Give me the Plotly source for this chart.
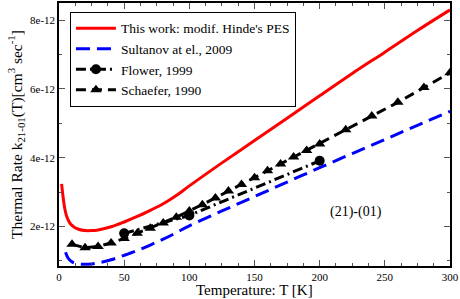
import plotly.graph_objects as go

# Values in units of 1e-12 cm^3 s^-1
T_this = [2, 3, 4, 5, 6, 8, 10, 12, 15, 20, 25, 30, 40, 50, 60, 70, 80, 90, 100,
          125, 150, 175, 200, 225, 250, 275, 300]
k_this = [3.24, 2.90, 2.62, 2.42, 2.28, 2.12, 2.03, 1.97, 1.92, 1.88, 1.88, 1.90, 1.99,
          2.13, 2.29, 2.47, 2.66, 2.90, 3.18, 3.85, 4.50, 5.15, 5.80, 6.45, 7.07, 7.70, 8.30]

T_sult = [5, 7, 10, 15, 20, 25, 30, 40, 50, 60, 70, 80, 90, 100,
          125, 150, 175, 200, 225, 250, 275, 300]
k_sult = [1.25, 1.08, 0.97, 0.91, 0.90, 0.91, 0.94, 1.03, 1.16, 1.30, 1.46, 1.63, 1.82, 2.02,
          2.45, 2.87, 3.29, 3.71, 4.12, 4.53, 4.94, 5.35]

T_flower = [50, 100, 200]
k_flower = [1.80, 2.32, 3.91]

T_schaefer = [10, 20, 30, 40, 50, 60, 70, 80, 90, 100, 110, 120, 130, 140, 150,
              160, 170, 180, 190, 200, 220, 240, 260, 280, 300]
k_schaefer = [1.48, 1.38, 1.42, 1.52, 1.65, 1.80, 1.95, 2.10, 2.27, 2.45, 2.63, 2.83, 3.03,
              3.22, 3.42, 3.62, 3.82, 4.02, 4.21, 4.40, 4.81, 5.21, 5.61, 6.04, 6.47]

y_tickvals = [2, 4, 6, 8]
y_ticktext = ["2e-12", "4e-12", "6e-12", "8e-12"]
x_tickvals = [0, 50, 100, 150, 200, 250, 300]

serif = "Liberation Serif"

fig = go.Figure()
fig.add_trace(go.Scatter(x=T_this, y=k_this, mode="lines", name="This work: modif. Hinde's PES",
                         line=dict(color="#ff0000", width=3, shape="spline")))
fig.add_trace(go.Scatter(x=T_sult, y=k_sult, mode="lines", name="Sultanov at el., 2009",
                         line=dict(color="#0000ff", width=3, dash="14px,7px", shape="spline")))
fig.add_trace(go.Scatter(x=T_flower, y=k_flower, mode="lines+markers", name="Flower, 1999",
                         line=dict(color="black", width=3, dash="10px,4px,2px,4px"),
                         marker=dict(symbol="circle", size=10, color="black")))
fig.add_trace(go.Scatter(x=T_schaefer, y=k_schaefer, mode="lines+markers", name="Schaefer, 1990",
                         line=dict(color="black", width=3, dash="10px,6px"),
                         marker=dict(symbol="triangle-up", size=10, color="black")))

fig.add_annotation(x=228, y=2.43, text="(21)-(01)", showarrow=False,
                   font=dict(family=serif, size=14, color="black"))

# x-axis title placed below tick labels
fig.add_annotation(x=0.5, xref="paper", y=0, yref="paper", yanchor="bottom", yshift=-33,
                   borderpad=0, text="Temperature: T [K]", showarrow=False,
                   font=dict(family=serif, size=15, color="black"))

axis_common = dict(showline=True, linecolor="black", linewidth=1.5, mirror="allticks",
                   ticks="inside", ticklen=6, tickcolor="#555555", tickwidth=1,
                   showgrid=False, zeroline=False,
                   tickfont=dict(family=serif, size=11, color="black"))

fig.update_layout(
    width=460, height=299,
    margin=dict(l=59, r=10, t=1, b=33),
    paper_bgcolor="white", plot_bgcolor="white",
    xaxis=dict(range=[0, 300], tickvals=x_tickvals, ticktext=[str(v) for v in x_tickvals],
               minor=dict(dtick=12.5, ticks="inside", ticklen=3, tickcolor="#555555"),
               **axis_common),
    yaxis=dict(range=[0.85, 8.5], tickvals=y_tickvals, ticktext=y_ticktext,
               minor=dict(dtick=1, ticks="inside", ticklen=3, tickcolor="#555555"),
               title=dict(text="Thermal Rate k<sub>21-01</sub>(T)[cm<sup>3</sup> sec<sup>-1</sup>]",
                          font=dict(family=serif, size=15.5, color="black"), standoff=4),
               **axis_common),
    legend=dict(x=0.028, y=0.966, xanchor="left", yanchor="top",
                bgcolor="white", bordercolor="black", borderwidth=1,
                font=dict(family=serif, size=13.5, color="black"),
                tracegroupgap=0, itemwidth=40),
    showlegend=True,
)

fig.write_html("out.html", config={"displayModeBar": False},
               post_script="document.body.style.margin='0';document.body.style.overflow='hidden';")
